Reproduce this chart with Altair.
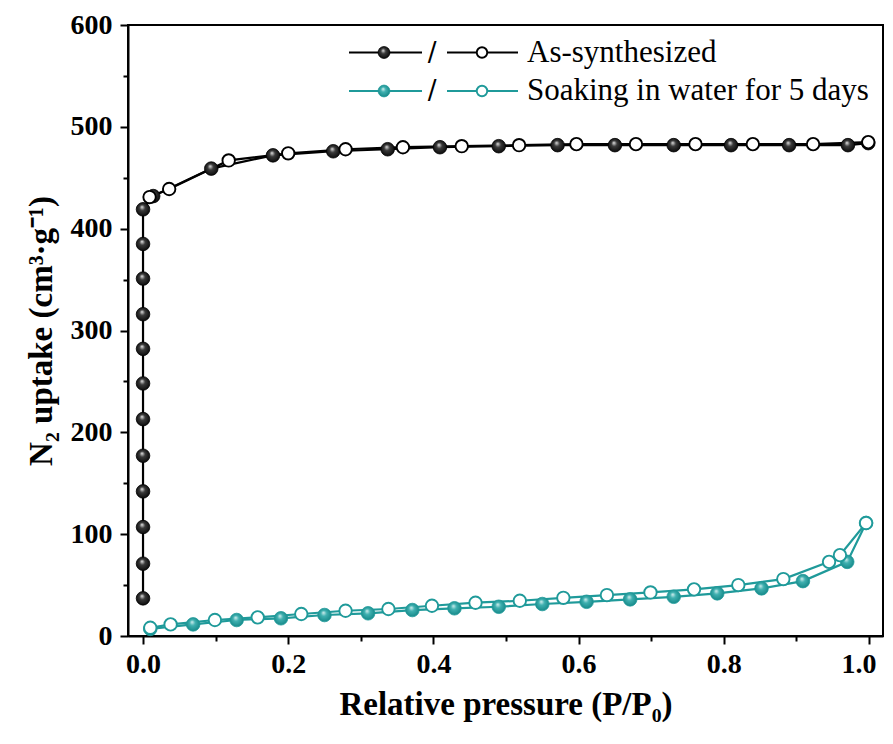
import altair as alt
import pandas as pd

# ---------------- data ----------------
# As-synthesized, adsorption (filled)
as_ads_p = [0.0, 0.0, 0.0, 0.0, 0.0, 0.0, 0.0, 0.0, 0.0, 0.0, 0.0, 0.0,
            0.014, 0.094, 0.179, 0.262, 0.337, 0.409, 0.490, 0.571, 0.650,
            0.731, 0.810, 0.890, 0.971, 0.999]
as_ads_v = [37, 71, 107, 142, 177, 213, 248, 282, 316, 351, 385, 419,
            432, 459, 472, 476, 478, 480, 481, 482, 482,
            482, 482, 482, 482, 484]
# As-synthesized, desorption (open)
as_des_p = [0.999, 0.923, 0.840, 0.761, 0.679, 0.597, 0.518, 0.439, 0.358,
            0.279, 0.200, 0.118, 0.036, 0.009]
as_des_v = [485, 483, 483, 483, 483, 483, 482, 481, 480,
            478, 474, 467, 439, 431]
# Soaking in water for 5 days, adsorption (filled)
sw_ads_p = [0.010, 0.069, 0.129, 0.190, 0.250, 0.310, 0.371, 0.429, 0.490,
            0.550, 0.611, 0.671, 0.731, 0.791, 0.852, 0.909, 0.970, 0.996]
sw_ads_v = [7.0, 11.4, 15.7, 17.4, 20.6, 22.3, 25.5, 27.2, 28.7,
            31.4, 33.6, 36.0, 38.5, 41.9, 46.8, 53.9, 72.8, 111.0]
# Soaking in water for 5 days, desorption (open)
sw_des_p = [0.996, 0.960, 0.945, 0.882, 0.820, 0.759, 0.699, 0.639, 0.579,
            0.519, 0.458, 0.398, 0.338, 0.279, 0.218, 0.158, 0.099, 0.038, 0.010]
sw_des_v = [111.0, 79.4, 72.8, 55.9, 50.0, 45.8, 42.8, 40.2, 37.5,
            34.6, 32.7, 29.7, 26.5, 24.8, 21.6, 18.3, 15.7, 11.4, 8.1]

x_major = [0.0, 0.2, 0.4, 0.6, 0.8]
x_last = [1.0]
x_minor = [0.1, 0.3, 0.5, 0.7, 0.9]
y_major = [0, 100, 200, 300, 400, 500, 600]
y_minor = [50, 150, 250, 350, 450, 550]

labels = ["As-synthesized", "Soaking in water for 5 days"]

BLACK = "#000000"
TEAL = "#1f9a9a"
FONT = "Liberation Serif"


def frame(xs, ys):
    return pd.DataFrame({"p": xs, "v": ys, "i": list(range(len(xs)))})


def sphere(light, mid, dark):
    return alt.RadialGradient(
        gradient="radial",
        stops=[alt.GradientStop(color=light, offset=0),
               alt.GradientStop(color=mid, offset=0.35),
               alt.GradientStop(color=dark, offset=1)],
        x1=0.42, y1=0.32, r1=0, x2=0.5, y2=0.5, r2=0.6)


black_sphere = sphere("#e6e6e6", "#3a3a3a", "#000000")
teal_sphere = sphere("#d6f0f0", "#3fb0b0", "#0d8080")

xscale = alt.Scale(domain=[-0.0207, 1.0193], nice=False, zero=False)
yscale = alt.Scale(domain=[0, 600], nice=False, zero=False)

ax_x_major = alt.Axis(values=x_major, format=".1f", orient="bottom",
                      tickSize=8, labelPadding=6,
                      title="Relative pressure (P/P\u2080)", titlePadding=10)
ax_x_last = alt.Axis(values=x_last, format=".1f", orient="bottom",
                     tickSize=8, labelPadding=6, labelFlush=20,
                     labelFlushOffset=7, domain=False, title=None)
ax_y_major = alt.Axis(values=y_major, format="d", orient="left",
                      tickSize=8, labelPadding=8,
                      title="N\u2082 uptake (cm\u00b3\u00b7g\u207b\u00b9)", titlePadding=12)
ax_x_minor = alt.Axis(values=x_minor, orient="bottom", tickSize=5,
                      labels=False, domain=False, title=None)
ax_y_minor = alt.Axis(values=y_minor, orient="left", tickSize=5,
                      labels=False, domain=False, title=None)


def line_layer(df, color, xaxis=None, yaxis=None):
    return alt.Chart(df).mark_line(color=color, strokeWidth=2.2).encode(
        x=alt.X("p:Q", scale=xscale, axis=xaxis),
        y=alt.Y("v:Q", scale=yscale, axis=yaxis),
        order="i:Q")


def point_layer(df, filled, color, fill):
    if filled:
        m = alt.Chart(df).mark_point(filled=True, size=185, fill=fill,
                                     stroke=color, strokeWidth=0.8,
                                     opacity=1, shape="circle")
    else:
        m = alt.Chart(df).mark_point(filled=False, size=155, fill="white",
                                     fillOpacity=1, stroke=color,
                                     strokeWidth=1.9, opacity=1, shape="circle")
    return m.encode(x=alt.X("p:Q", scale=xscale, axis=None),
                    y=alt.Y("v:Q", scale=yscale, axis=None))


as_ads = frame(as_ads_p, as_ads_v)
as_des = frame(as_des_p, as_des_v)
sw_ads = frame(sw_ads_p, sw_ads_v)
sw_des = frame(sw_des_p, sw_des_v)

layers = [
    line_layer(as_ads, BLACK, ax_x_major, ax_y_major),
    line_layer(as_des, BLACK, ax_x_minor, ax_y_minor),
    line_layer(sw_ads, TEAL, ax_x_last, None),
    line_layer(sw_des, TEAL),
    point_layer(as_ads, True, BLACK, black_sphere),
    point_layer(as_des, False, BLACK, None),
    point_layer(sw_ads, True, TEAL, teal_sphere),
    point_layer(sw_des, False, TEAL, None),
]

# ---------------- custom legend ----------------
one = pd.DataFrame({"a": [0]})


def legend_row(ypix, color, fill, label):
    parts = []
    for x0, x1 in [(221, 294), (319, 390)]:
        parts.append(alt.Chart(one).mark_rule(color=color, strokeWidth=2.2).encode(
            x=alt.value(x0), x2=alt.value(x1), y=alt.value(ypix)))
    parts.append(alt.Chart(one).mark_point(filled=True, size=140, fill=fill,
                                           stroke=color, strokeWidth=0.8,
                                           opacity=1).encode(
        x=alt.value(256), y=alt.value(ypix)))
    parts.append(alt.Chart(one).mark_point(filled=False, size=110, fill="white",
                                           fillOpacity=1, stroke=color,
                                           strokeWidth=1.9, opacity=1).encode(
        x=alt.value(354), y=alt.value(ypix)))
    parts.append(alt.Chart(one).mark_text(text="/", font="DejaVu Sans",
                                          fontSize=26, align="center",
                                          baseline="middle", color="black").encode(
        x=alt.value(304), y=alt.value(ypix)))
    parts.append(alt.Chart(one).mark_text(text=label, font=FONT, fontSize=31,
                                          align="left", baseline="middle",
                                          color="black").encode(
        x=alt.value(399), y=alt.value(ypix)))
    return parts


layers += legend_row(27.5, BLACK, black_sphere, labels[0])
layers += legend_row(66, TEAL, teal_sphere, labels[1])

chart = alt.layer(*layers).resolve_axis(
    x="independent", y="independent"
).properties(
    width=755, height=611,
    autosize=alt.AutoSizeParams(type="none"),
    padding={"left": 120, "top": 17, "right": 2, "bottom": 100},
    background="white",
).configure_view(
    stroke="black", strokeWidth=2
).configure_axis(
    grid=False,
    domainColor="black", domainWidth=2,
    tickColor="black", tickWidth=2,
    labelColor="black", labelFont=FONT, labelFontWeight="bold",
    labelFontSize=28,
    titleColor="black", titleFont=FONT, titleFontWeight="bold",
    titleFontSize=33,
)

chart.save("out.html", embed_options={"renderer": "svg", "actions": False})
